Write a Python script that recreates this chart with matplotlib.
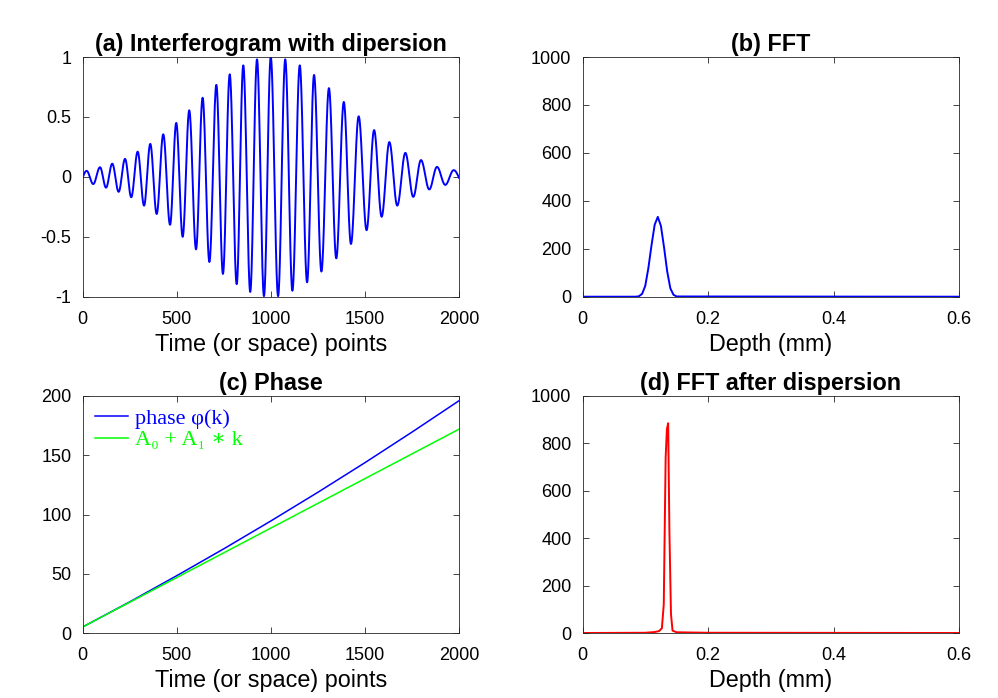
import numpy as np
import matplotlib
matplotlib.use('Agg')
import matplotlib.pyplot as plt

plt.rcParams['font.family'] = ['Liberation Sans', 'DejaVu Sans']
plt.rcParams['axes.unicode_minus'] = False

# ---------------- data ----------------
# (a) interferogram: successive extrema (position, value)
ifg_ext_x = [0, 22, 57, 93, 125, 158, 192, 226, 259, 293, 327, 360, 394, 429, 465,
             498, 532, 567, 603, 638, 674, 711, 746, 782, 819, 854, 891, 927, 964,
             1000, 1039, 1077, 1115, 1154, 1193, 1230, 1269, 1309, 1348, 1388, 1426,
             1467, 1509, 1549, 1589, 1630, 1672, 1715, 1757, 1798, 1842, 1883, 1927,
             1972, 2000]
ifg_ext_y = [-0.01, 0.05, -0.06, 0.08, -0.09, 0.11, -0.125, 0.15, -0.17, 0.21, -0.24,
             0.275, -0.31, 0.355, -0.40, 0.45, -0.50, 0.555, -0.605, 0.66, -0.71,
             0.767, -0.81, 0.855, -0.895, 0.93, -0.96, 0.98, -0.995, 1.0, -0.995,
             0.98, -0.95, 0.93, -0.88, 0.85, -0.79, 0.74, -0.68, 0.625, -0.56, 0.505,
             -0.445, 0.39, -0.333, 0.29, -0.24, 0.20, -0.167, 0.14, -0.105, 0.083,
             -0.067, 0.056, -0.008]

# (b) FFT magnitude
fft_depth = [0, 0.085, 0.090, 0.095, 0.100, 0.105, 0.110, 0.115, 0.120, 0.125,
             0.130, 0.135, 0.140, 0.145, 0.150, 0.6]
fft_mag = [0, 0, 2, 12, 45, 120, 215, 300, 333, 295, 205, 105, 35, 8, 1, 0]

# (c) phase
phase_k = [0, 250, 500, 750, 1000, 1250, 1500, 1750, 2000]
phase_val = [5, 26.2, 48.3, 71, 94.5, 118.7, 143.7, 169.5, 196]
fit_k = [0, 2000]
fit_val = [5, 172]

# (d) FFT after dispersion compensation
fftc_depth = [0, 0.10, 0.115, 0.122, 0.1265, 0.1295, 0.1325, 0.1345, 0.1365,
              0.1385, 0.1410, 0.1435, 0.150, 0.2, 0.6]
fftc_mag = [0, 1, 4, 8, 20, 120, 740, 860, 885, 430, 80, 10, 3, 1, 0]


def arc_curve(xs, ys, n=40):
    """Join successive extrema with smooth cosine arcs."""
    X, Y = [], []
    m = len(xs) - 1
    for i in range(m):
        t = np.linspace(0, 1, n, endpoint=False)
        x0, x1, y0, y1 = xs[i], xs[i + 1], ys[i], ys[i + 1]
        if i == 0:
            s = np.sin(np.pi / 2 * t)
        elif i == m - 1:
            s = 1 - np.cos(np.pi / 2 * t)
        else:
            s = (1 - np.cos(np.pi * t)) / 2
        X.append(x0 + (x1 - x0) * t)
        Y.append(y0 + (y1 - y0) * s)
    X.append([xs[-1]])
    Y.append([ys[-1]])
    return np.concatenate(X), np.concatenate(Y)


W, H = 998, 698
fig = plt.figure(figsize=(W / 100, H / 100), dpi=100)


def make_ax(l, r, t, b):
    return fig.add_axes([l / W, 1 - b / H, (r - l) / W, (b - t) / H])


axA = make_ax(82.5, 459, 57, 296.7)
axB = make_ax(582.5, 959, 57, 296.7)
axC = make_ax(82.5, 459, 396, 633)
axD = make_ax(582.5, 959, 396, 633)

TICK = 13
LAB = 16.8
TIT = 16.8
edge = '#262626'


def style(ax):
    for s in ax.spines.values():
        s.set_color(edge)
        s.set_linewidth(0.6)
    ax.tick_params(direction='in', length=4, width=0.6, color=edge,
                   top=True, right=True, labelsize=TICK)
    ax.tick_params(axis='x', pad=10)
    ax.tick_params(axis='y', pad=8)


# (a)
xa, ya = arc_curve(ifg_ext_x, ifg_ext_y)
axA.plot(xa, ya, color='#0000ff', lw=1.4)
axA.set_xlim(0, 2000)
axA.set_ylim(-1, 1)
axA.set_xticks([0, 500, 1000, 1500, 2000])
axA.set_yticks([-1, -0.5, 0, 0.5, 1])
axA.set_yticklabels(['-1', '-0.5', '0', '0.5', '1'])
axA.set_xlabel('Time (or space) points', fontsize=LAB, labelpad=4)
axA.set_title('(a) Interferogram with dipersion', fontsize=TIT, fontweight='bold', pad=4)

# (b)
axB.plot(fft_depth, fft_mag, color='#0000ff', lw=1.4)
axB.set_xlim(0, 0.6)
axB.set_ylim(0, 1000)
axB.set_xticks([0, 0.2, 0.4, 0.6])
axB.set_xticklabels(['0', '0.2', '0.4', '0.6'])
axB.set_yticks([0, 200, 400, 600, 800, 1000])
axB.set_xlabel('Depth (mm)', fontsize=LAB, labelpad=4)
axB.set_title('(b) FFT', fontsize=TIT, fontweight='bold', pad=4)

# (c)
l1, = axC.plot(phase_k, phase_val, color='#0000ff', lw=1.1)
l2, = axC.plot(fit_k, fit_val, color='#00ff00', lw=1.1)
axC.set_xlim(0, 2000)
axC.set_ylim(0, 200)
axC.set_xticks([0, 500, 1000, 1500, 2000])
axC.set_yticks([0, 50, 100, 150, 200])
axC.set_xlabel('Time (or space) points', fontsize=LAB, labelpad=4)
axC.set_title('(c) Phase', fontsize=TIT, fontweight='bold', pad=4)
leg = axC.legend([l1, l2], ['phase φ(k)', 'A₀ + A₁ ∗ k'], loc='upper left',
                 frameon=False, handlelength=1.5, handletextpad=0.3,
                 borderaxespad=0.2, labelspacing=0.05, borderpad=0.35,
                 prop={'family': ['Liberation Serif', 'DejaVu Serif'], 'size': 16})
for txt, c in zip(leg.get_texts(), ['#0000ff', '#00ff00']):
    txt.set_color(c)

# (d)
axD.plot(fftc_depth, fftc_mag, color='#ff0000', lw=1.4)
axD.set_xlim(0, 0.6)
axD.set_ylim(0, 1000)
axD.set_xticks([0, 0.2, 0.4, 0.6])
axD.set_xticklabels(['0', '0.2', '0.4', '0.6'])
axD.set_yticks([0, 200, 400, 600, 800, 1000])
axD.set_xlabel('Depth (mm)', fontsize=LAB, labelpad=4)
axD.set_title('(d) FFT after dispersion', fontsize=TIT, fontweight='bold', pad=4)

for ax in (axA, axB, axC, axD):
    style(ax)

fig.savefig('out.png', dpi=100)
